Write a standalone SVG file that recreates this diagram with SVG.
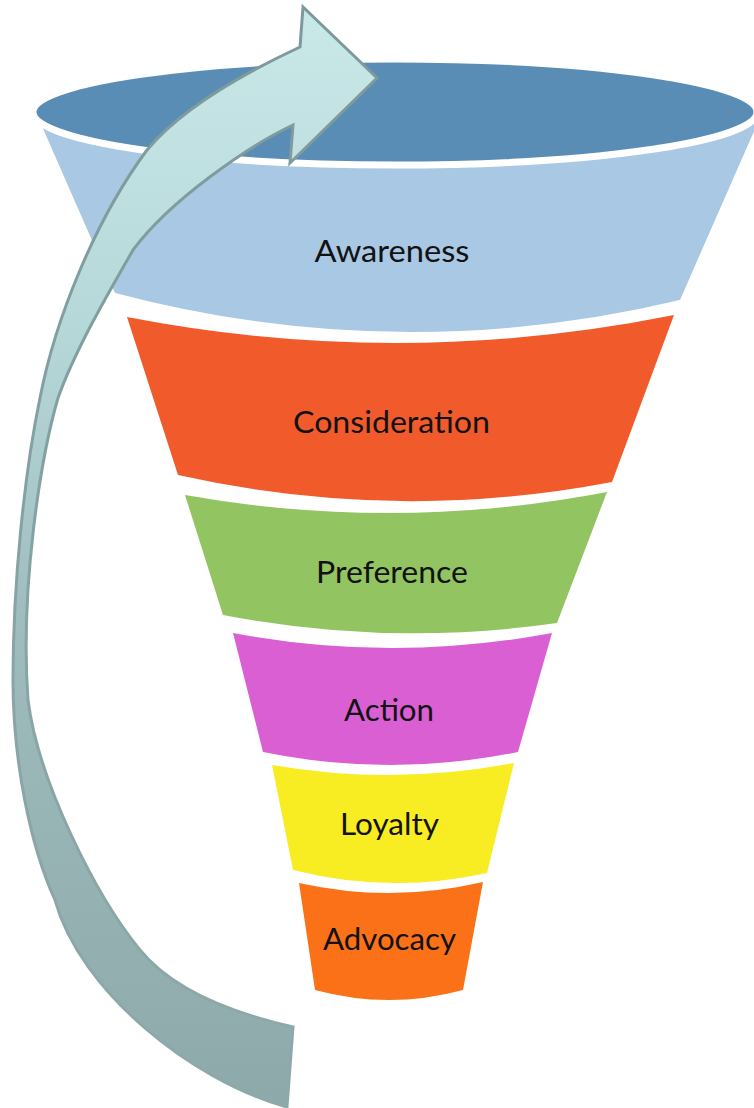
<svg xmlns="http://www.w3.org/2000/svg" width="754" height="1108" viewBox="0 0 754 1108">
  <defs>
    <linearGradient id="arrowGrad" x1="0" y1="0" x2="0" y2="1">
      <stop offset="0" stop-color="#c9e9e9"/>
      <stop offset="0.3" stop-color="#b6d7d8"/>
      <stop offset="0.55" stop-color="#9fbdbe"/>
      <stop offset="1" stop-color="#8ea9aa"/>
    </linearGradient>
    <linearGradient id="arrowStroke" x1="0" y1="0" x2="0" y2="1">
      <stop offset="0" stop-color="#7c9a9b"/>
      <stop offset="0.6" stop-color="#88a4a5"/>
      <stop offset="1" stop-color="#8ea9aa"/>
    </linearGradient>
  </defs>
  <style>
    .lbl { font-family: Lato, "Open Sans", "Liberation Sans", sans-serif; font-size: 30px; fill: #121212; text-anchor: middle; }
    .seg { stroke: none; }
  </style>
  <rect width="754" height="1108" fill="#ffffff"/>

  <g id="awareness">
    <path class="seg" fill="#a9c8e4" d="M41,124 Q395,150 758,122 L680,300 Q397.5,367.5 115,293 Z"/>
    <text class="lbl" x="392" y="262" textLength="155" lengthAdjust="spacingAndGlyphs">Awareness</text>
  </g>

  <g id="funnel-top">
    <ellipse cx="395" cy="112" rx="362" ry="53" fill="#5a8db5" stroke="#ffffff" stroke-width="7"/>
  </g>

  <g id="consideration">
    <path class="seg" fill="#f15b2c" d="M127,317 Q400.5,370 674,315 L612,482 Q395,523.5 178,475 Z"/>
    <text class="lbl" x="391.5" y="433" textLength="197" lengthAdjust="spacingAndGlyphs">Consideration</text>
  </g>

  <g id="preference">
    <path class="seg" fill="#93c462" d="M185,495 Q396,532.5 607,492 L557,623 Q390,647 223,615 Z"/>
    <text class="lbl" x="392" y="583" textLength="152" lengthAdjust="spacingAndGlyphs">Preference</text>
  </g>

  <g id="action">
    <path class="seg" fill="#da5fd2" d="M233,633 Q392.5,663 552,633 L518,752 Q390.5,778 263,752 Z"/>
    <text class="lbl" x="389" y="721" textLength="90" lengthAdjust="spacingAndGlyphs">Action</text>
  </g>

  <g id="loyalty">
    <path class="seg" fill="#f8ec22" d="M272,765 Q393,786 514,763 L487,873 Q390,894.5 293,870 Z"/>
    <text class="lbl" x="389.5" y="835" textLength="99" lengthAdjust="spacingAndGlyphs">Loyalty</text>
  </g>

  <g id="advocacy">
    <path class="seg" fill="#fa7118" stroke="#fa7118" stroke-width="3" stroke-linejoin="round" d="M299,883 Q391,903.5 483,882 L463,990 Q389,1010 315,990 Z"/>
    <text class="lbl" x="389.5" y="950" textLength="133" lengthAdjust="spacingAndGlyphs">Advocacy</text>
  </g>

  <g id="connectors">
    <path id="cycle-arrow" fill="url(#arrowGrad)" stroke="url(#arrowStroke)" stroke-width="3" stroke-linejoin="miter"
      d="M287,1107 C190,1080 80,990 55,900 C30,845 13,760 13,680 C13,580 25,470 40,398 C55,320 95,220 147,150 C180,110 240,75 300,47 L303,7 L377,78 L290,163 L293,125 C250,145 170,200 133,250 C110,290 75,350 58,398 C40,460 20,590 28,700 C38,780 95,895 140,950 C175,993 240,1015 293,1027 Z"/>
  </g>
</svg>
